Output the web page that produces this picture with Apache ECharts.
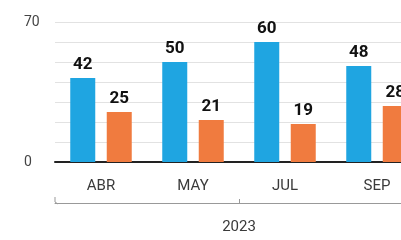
<!DOCTYPE html>
<html>
<head>
<meta charset="utf-8">
<script src="https://cdn.jsdelivr.net/npm/echarts@6/dist/echarts.min.js"></script>
<style>
  html, body { margin: 0; padding: 0; background: #fff; overflow: hidden; }
  #chart { width: 423px; height: 240px; }
</style>
</head>
<body>
<div id="chart"></div>
<script>
// data
const months = ['ABR', 'MAY', 'JUL', 'SEP'];
const years = ['2023'];
const seriesA = [42, 50, 60, 48];
const seriesB = [25, 21, 19, 28];
const yTicksShown = [0, 70];

const chart = echarts.init(document.getElementById('chart'));

chart.setOption({
  animation: false,
  grid: { left: 55, right: 0, top: 22, bottom: 78 },
  xAxis: [{
    type: 'category',
    data: months,
    axisLine: { lineStyle: { color: '#222', width: 2 } },
    axisTick: { show: false },
    axisLabel: { margin: 17, color: '#3a3a3a', fontSize: 15, fontFamily: 'Roboto' }
  }, {
    type: 'category',
    data: years,
    position: 'bottom',
    offset: 41,
    axisLine: { lineStyle: { color: '#999', width: 1 } },
    axisTick: { show: true, alignWithLabel: true, inside: true, length: 4, lineStyle: { color: '#999' } },
    axisLabel: { margin: 17, color: '#3a3a3a', fontSize: 15, fontFamily: 'Roboto' }
  }],
  yAxis: {
    type: 'value',
    min: 0,
    max: 70,
    interval: 10,
    axisLine: { show: false },
    axisTick: { show: false },
    splitLine: { lineStyle: { color: '#e2e2e2', width: 1 } },
    axisLabel: {
      align: 'left',
      margin: 31,
      color: '#444',
      fontSize: 14,
      fontFamily: 'Roboto',
      formatter: v => yTicksShown.indexOf(v) >= 0 ? String(v) : ''
    }
  },
  graphic: [{
    type: 'polyline',
    shape: { points: [[55, 197], [55, 202], [58, 204]] },
    style: { stroke: '#999', lineWidth: 1, fill: null }
  }],
  series: [{
    type: 'bar',
    data: seriesA,
    barWidth: 25,
    barGap: '46%',
    itemStyle: { color: '#1fa5e1' },
    label: { show: true, position: 'top', distance: 5, color: '#111', fontSize: 17, fontWeight: 'bold', fontFamily: 'Roboto' }
  }, {
    type: 'bar',
    data: seriesB,
    barWidth: 25,
    itemStyle: { color: '#f07b3f' },
    label: { show: true, position: 'top', distance: 5, color: '#111', fontSize: 17, fontWeight: 'bold', fontFamily: 'Roboto' }
  }]
});
</script>
</body>
</html>
